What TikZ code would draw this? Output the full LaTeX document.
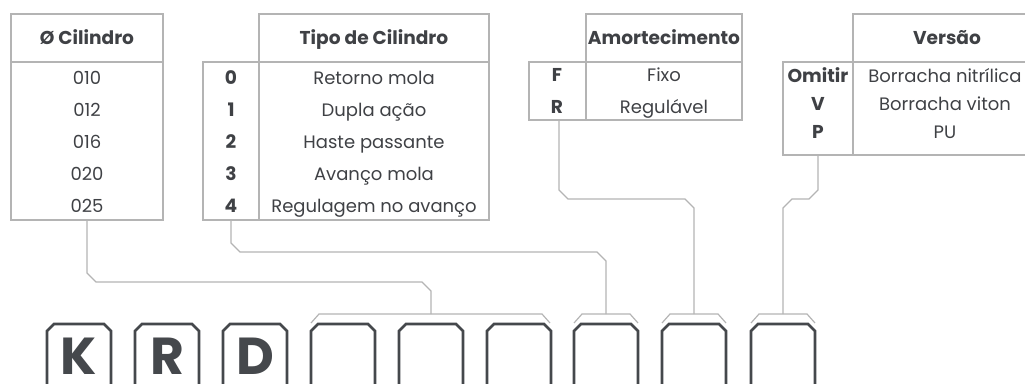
\documentclass[tikz,border=0pt]{standalone}
\usepackage{fontspec}
\setmainfont{Poppins}
\definecolor{tline}{HTML}{B4B4B4}
\definecolor{txt}{HTML}{3F4145}
\definecolor{kbox}{HTML}{45484C}
\tikzset{
  grid/.style={draw=tline, line width=1.2pt},
  conn/.style={draw=tline, line width=1.2pt},
  brk/.style={draw=tline, line width=1.2pt},
  keybox/.style={draw=kbox, line width=2.6pt, line join=miter},
  cell/.style={text=txt, font=\fontsize{18}{18}\selectfont, inner sep=0pt, anchor=base},
  hcell/.style={text=txt, font=\fontsize{18.6}{18.6}\selectfont\bfseries, inner sep=0pt, anchor=base},
  keyl/.style={text=kbox, font=\fontsize{52}{52}\selectfont\bfseries, inner sep=0pt, anchor=center},
}
\begin{document}
\begin{tikzpicture}[x=1pt,y=-1pt]
\useasboundingbox (0,0) rectangle (1025,383);
\clip (0,0) rectangle (1025,383);

% ---------- Table 1: diameter
\draw[grid] (11,14) rectangle (163,220);
\draw[grid] (11,62) -- (163,62);
\node[hcell] (h1) at (87,44) {Ø Cilindro};
\foreach \t [count=\i] in {010,012,016,020,025}
  \node[cell] (a\i) at (87,{52+32*\i}) {\t};

% ---------- Table 2: type
\draw[grid] (259,14) rectangle (489,62);
\draw[grid] (203,62) rectangle (489,220);
\draw[grid] (259,62) -- (259,220);
\node[hcell] (h2) at (374,44) {Tipo de Cilindro};
\foreach \c/\t [count=\i] in {0/Retorno mola,1/Dupla ação,2/Haste passante,3/Avanço mola,4/Regulagem no avanço}{
  \node[hcell] (bc\i) at (231,{52+32*\i}) {\c};
  \node[cell] (bt\i) at (374,{52+32*\i}) {\t};
}

% ---------- Table 3: cushioning
\draw[grid] (586,14) rectangle (742,62);
\draw[grid] (529,62) rectangle (742,120);
\draw[grid] (586,62) -- (586,120);
\node[hcell] (h3) at (664,44) {Amortecimento};
\node[hcell] (cc1) at (557,81) {F};
\node[cell] (ct1) at (664,81) {Fixo};
\node[hcell] (cc2) at (557,113) {R};
\node[cell] (ct2) at (664,113) {Regulável};

% ---------- Table 4: version
\draw[grid] (853,14) rectangle (1040,62);
\draw[grid] (783,62) rectangle (1040,155);
\draw[grid] (853,62) -- (853,155);
\node[hcell] (h4) at (947,44) {Versão};
\node[hcell] (dc1) at (818,82) {Omitir};
\node[cell] (dt1) at (945,82) {Borracha nitrílica};
\node[hcell] (dc2) at (818,110) {V};
\node[cell] (dt2) at (945,110) {Borracha viton};
\node[hcell] (dc3) at (818,138) {P};
\node[cell] (dt3) at (945,138) {PU};

% ---------- key boxes
\foreach \L [count=\i] in {47,135,223,311,399,487,574,662,751}{
  \draw[keybox] (\L+7,397) -- (\L,390) -- (\L,331) -- (\L+7,324) -- (\L+57,324)
     -- (\L+64,331) -- (\L+64,390) -- (\L+57,397) -- cycle;
  \coordinate (box\i) at (\L+32,324);
}
\node[keyl] (k1) at (79,356) {K};
\node[keyl] (k2) at (167,356) {R};
\node[keyl] (k3) at (255,356) {D};

% ---------- brackets over boxes
\draw[brk] (311,323) -- (319,314) -- (542,314) -- (550,323);
\draw[brk] (574,323) -- (582,314) -- (630,314) -- (638,323);
\draw[brk] (662,323) -- (670,314) -- (718,314) -- (726,323);
\draw[brk] (751,323) -- (759,314) -- (807,314) -- (815,323);
\coordinate (g1) at (431,314);
\coordinate (g2) at (606,314);
\coordinate (g3) at (694,314);
\coordinate (g4) at (783,314);

% ---------- connectors
\coordinate (t1b) at (87,220);
\coordinate (t2b) at (231,220);
\coordinate (t3b) at (559,120);
\coordinate (t4b) at (818,155);
\draw[conn] (t1b) -- (87,273) -- (96,282) -- (422,282) -- (431,291) -- (g1);
\draw[conn] (t2b) -- (231,243) -- (240,252) -- (597,252) -- (606,261) -- (g2);
\draw[conn] (t3b) -- (559,190) -- (568,199) -- (685,199) -- (694,208) -- (g3);
\draw[conn] (t4b) -- (818,190) -- (809,199) -- (792,199) -- (783,208) -- (g4);
\end{tikzpicture}
\end{document}
